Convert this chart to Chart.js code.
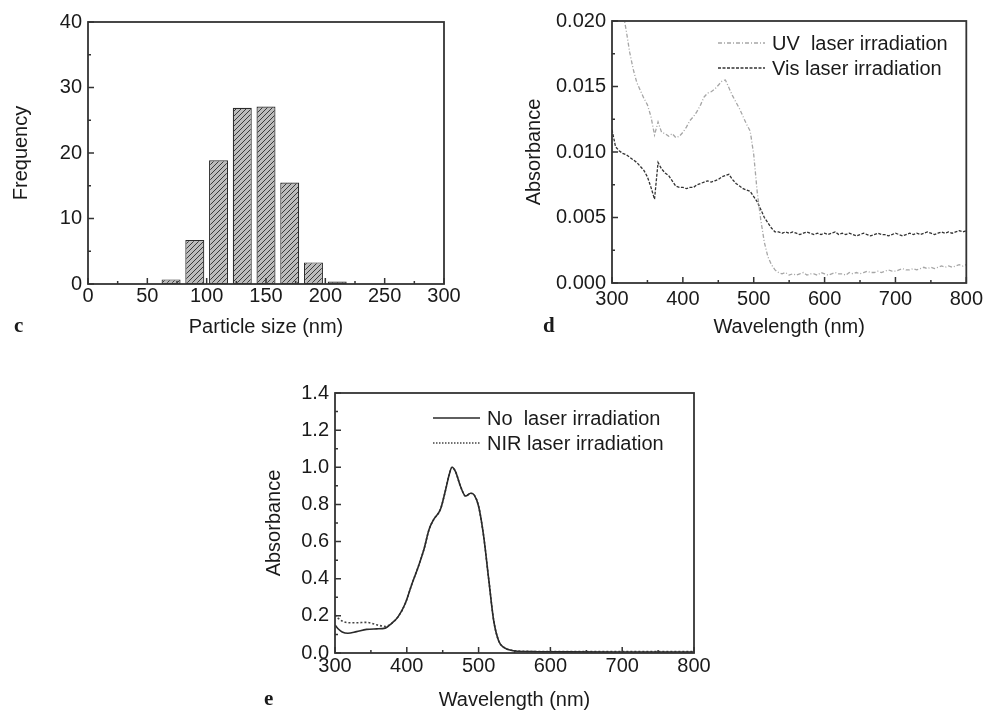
<!DOCTYPE html>
<html>
<head>
<meta charset="utf-8">
<title>Particle size and absorbance spectra</title>
<script src="https://cdn.jsdelivr.net/npm/chart.js@4.4.1/dist/chart.umd.min.js"></script>
<style>
body { margin: 0; background: #fff; }
#page { position: relative; width: 987px; height: 713px; overflow: hidden; font-family: "Liberation Sans", Arial, sans-serif; color: #1a1a1a; }
#page canvas { position: absolute; }
.panel-tag { position: absolute; font-family: "Liberation Serif", "Times New Roman", serif; font-weight: bold; font-size: 21px; line-height: 24px; }
.legend-row { position: absolute; height: 24px; font-size: 20px; line-height: 24px; white-space: pre; display: flex; align-items: center; }
.legend-row svg { margin-right: 7px; }
</style>
</head>
<body>
<div id="page">
  <canvas id="sizeChart" width="480" height="345" style="left:0px; top:0px;"></canvas>
  <canvas id="visChart" width="467" height="345" style="left:520px; top:0px;"></canvas>
  <canvas id="nirChart" width="480" height="343" style="left:240px; top:370px;"></canvas>

  <div class="panel-tag" style="left:14px; top:313px;">c</div>
  <div class="panel-tag" style="left:543px; top:313px;">d</div>
  <div class="panel-tag" style="left:264px; top:686px;">e</div>

  <div class="legend-row" style="left:718px; top:31px;"><svg width="47" height="4"><line x1="0" y1="2" x2="47" y2="2" stroke="#a6a6a6" stroke-width="1.4" stroke-dasharray="4 2 1 2"/></svg>UV  laser irradiation</div>
  <div class="legend-row" style="left:718px; top:56px;"><svg width="47" height="4"><line x1="0" y1="2" x2="47" y2="2" stroke="#333" stroke-width="1.4" stroke-dasharray="3 1.5"/></svg>Vis laser irradiation</div>

  <div class="legend-row" style="left:433px; top:406px;"><svg width="47" height="4"><line x1="0" y1="2" x2="47" y2="2" stroke="#2a2a2a" stroke-width="1.5"/></svg>No  laser irradiation</div>
  <div class="legend-row" style="left:433px; top:431px;"><svg width="47" height="4"><line x1="0" y1="2" x2="47" y2="2" stroke="#444" stroke-width="1.5" stroke-dasharray="1.5 1.5"/></svg>NIR laser irradiation</div>
</div>

<script>
// panel c - particle size histogram (bin centres, nm)
var sizeBins = [70, 90, 110, 130, 150, 170, 190, 210];
var sizeFreq = [0.7, 6.7, 18.9, 26.9, 27.1, 15.5, 3.3, 0.4];

// panel d - UV / Vis irradiated spectra
var dWave = [
  300, 305, 310, 315, 320, 325, 330, 335, 340, 345,
  350, 355, 360, 365, 370, 375, 380, 385, 390, 395,
  400, 405, 410, 415, 420, 425, 430, 435, 440, 445,
  450, 455, 460, 465, 470, 475, 480, 485, 490, 495,
  500, 505, 510, 515, 520, 525, 530, 535, 540, 545,
  550, 555, 560, 565, 570, 575, 580, 585, 590, 595,
  600, 605, 610, 615, 620, 625, 630, 635, 640, 645,
  650, 655, 660, 665, 670, 675, 680, 685, 690, 695,
  700, 705, 710, 715, 720, 725, 730, 735, 740, 745,
  750, 755, 760, 765, 770, 775, 780, 785, 790, 795,
  800
];
var dUV = [
  0.0265, 0.0246, 0.0226, 0.0208, 0.0193, 0.0176, 0.0163, 0.0153, 0.0147, 0.0141,
  0.0136, 0.0127, 0.0113, 0.0123, 0.0115, 0.0114, 0.0112, 0.0114, 0.0111, 0.0112,
  0.0115, 0.0119, 0.0124, 0.0127, 0.0131, 0.0136, 0.0142, 0.0145, 0.0146, 0.0148,
  0.0151, 0.0154, 0.0155, 0.0149, 0.0143, 0.0138, 0.0133, 0.0127, 0.0121, 0.0116,
  0.0098, 0.0069, 0.0048, 0.0031, 0.0020, 0.0014, 0.0010, 0.0008, 0.0007, 0.0008,
  0.0006, 0.0007, 0.0006, 0.0007, 0.0008, 0.0006, 0.0007, 0.0007, 0.0006, 0.0008,
  0.0007, 0.0006, 0.0007, 0.0008, 0.0007, 0.0007, 0.0006, 0.0008, 0.0007, 0.0008,
  0.0007, 0.0008, 0.0009, 0.0008, 0.0008, 0.0009, 0.0008, 0.0009, 0.0010, 0.0009,
  0.0009, 0.0010, 0.0011, 0.0010, 0.0010, 0.0011, 0.0010, 0.0011, 0.0012, 0.0011,
  0.0012, 0.0011, 0.0012, 0.0013, 0.0012, 0.0013, 0.0012, 0.0013, 0.0014, 0.0013,
  0.0014
];
var dVis = [
  0.0117, 0.0104, 0.0101, 0.0099, 0.0098, 0.0096, 0.0094, 0.0092, 0.0089, 0.0086,
  0.0081, 0.0073, 0.0064, 0.0092, 0.0087, 0.0084, 0.0082, 0.0078, 0.0074, 0.0073,
  0.0073, 0.0072, 0.0073, 0.0073, 0.0075, 0.0076, 0.0077, 0.0078, 0.0077, 0.0078,
  0.0079, 0.0081, 0.0082, 0.0083, 0.0079, 0.0076, 0.0074, 0.0072, 0.0071, 0.0070,
  0.0066, 0.0062, 0.0056, 0.0050, 0.0046, 0.0042, 0.0039, 0.0039, 0.0038, 0.0039,
  0.0038, 0.0039, 0.0038, 0.0037, 0.0038, 0.0039, 0.0038, 0.0037, 0.0038, 0.0037,
  0.0038, 0.0037, 0.0038, 0.0039, 0.0037, 0.0038, 0.0037, 0.0038, 0.0037, 0.0036,
  0.0037, 0.0038, 0.0037, 0.0036, 0.0037, 0.0038, 0.0037, 0.0037, 0.0036, 0.0037,
  0.0038, 0.0037, 0.0036, 0.0037, 0.0038, 0.0037, 0.0038, 0.0037, 0.0038, 0.0039,
  0.0038, 0.0037, 0.0038, 0.0039, 0.0038, 0.0039, 0.0038, 0.0039, 0.0040, 0.0039,
  0.0040
];

// panel e - no laser / NIR laser spectra
var eWave = [300, 305, 310, 318, 330, 344, 358, 370, 379, 388, 398, 407, 416, 424, 431, 437, 447, 454, 459, 463,
             468, 475, 482, 489, 494, 500, 507, 514, 521, 528, 535, 549, 565, 582, 620, 700, 800];
var eNoLaser = [0.151, 0.128, 0.113, 0.106, 0.115, 0.127, 0.130, 0.134, 0.160, 0.196, 0.268, 0.370, 0.465, 0.560, 0.665, 0.716, 0.775, 0.878, 0.960, 1.000,
                0.975, 0.895, 0.845, 0.860, 0.850, 0.790, 0.630, 0.400, 0.175, 0.065, 0.030, 0.012, 0.008, 0.007, 0.006, 0.005, 0.005];
var eNirLaser = [0.205, 0.185, 0.172, 0.163, 0.163, 0.165, 0.152, 0.143, 0.160, 0.196, 0.268, 0.370, 0.465, 0.560, 0.665, 0.716, 0.775, 0.878, 0.960, 1.000,
                 0.975, 0.895, 0.845, 0.860, 0.850, 0.790, 0.630, 0.400, 0.175, 0.065, 0.031, 0.013, 0.009, 0.008, 0.008, 0.008, 0.008];

Chart.defaults.font.family = '"Liberation Sans", Arial, sans-serif';
Chart.defaults.font.size = 20;
Chart.defaults.color = '#1a1a1a';

function toPoints(xs, ys) {
  return xs.map(function (x, i) { return { x: x, y: ys[i] }; });
}

// inward tick marks on bottom/left, closed frame round the plot
var frameTicks = {
  id: 'frameTicks',
  afterDatasetsDraw: function (chart) {
    var ctx = chart.ctx, a = chart.chartArea;
    var xs = chart.scales.x, ys = chart.scales.y;
    var xt = xs.ticks.map(function (t) { return t.value; });
    var yt = ys.ticks.map(function (t) { return t.value; });
    ctx.save();
    ctx.strokeStyle = '#333';
    ctx.lineWidth = 1.5;
    ctx.beginPath();
    for (var i = 0; i < xt.length; i++) {
      var px = xs.getPixelForValue(xt[i]);
      ctx.moveTo(px, a.bottom); ctx.lineTo(px, a.bottom - 6);
      if (i < xt.length - 1) {
        var mx = xs.getPixelForValue((xt[i] + xt[i + 1]) / 2);
        ctx.moveTo(mx, a.bottom); ctx.lineTo(mx, a.bottom - 3);
      }
    }
    for (var j = 0; j < yt.length; j++) {
      var py = ys.getPixelForValue(yt[j]);
      ctx.moveTo(a.left, py); ctx.lineTo(a.left + 6, py);
      if (j < yt.length - 1) {
        var my = ys.getPixelForValue((yt[j] + yt[j + 1]) / 2);
        ctx.moveTo(a.left, my); ctx.lineTo(a.left + 3, my);
      }
    }
    ctx.stroke();
    ctx.lineWidth = 1.8;
    ctx.strokeRect(a.left, a.top, a.right - a.left, a.bottom - a.top);
    ctx.restore();
  }
};

function axis(min, max, step, title, tickPad, titlePad, fitSize, isX, fmt) {
  return {
    type: 'linear',
    min: min,
    max: max,
    offset: false,
    grid: { display: false, drawTicks: false },
    border: { display: false },
    ticks: { stepSize: step, padding: tickPad, callback: fmt || function (v) { return v; } },
    title: { display: true, text: title, padding: titlePad },
    afterFit: function (s) { if (isX) { s.height = fitSize; } else { s.width = fitSize; } }
  };
}

//bar chart (c)
var ctxSize = document.getElementById('sizeChart').getContext('2d');
var hatchTile = document.createElement('canvas');
hatchTile.width = 5; hatchTile.height = 5;
var ht = hatchTile.getContext('2d');
ht.fillStyle = '#bcbcbc';
ht.fillRect(0, 0, 5, 5);
ht.strokeStyle = '#3a3a3a';
ht.lineWidth = 1;
ht.beginPath();
ht.moveTo(0, 5); ht.lineTo(5, 0);
ht.moveTo(-1, 1); ht.lineTo(1, -1);
ht.moveTo(4, 6); ht.lineTo(6, 4);
ht.stroke();
var hatch = ctxSize.createPattern(hatchTile, 'repeat');

var sizeChart = new Chart(ctxSize, {
  type: 'bar',
  data: {
    datasets: [{
      data: toPoints(sizeBins, sizeFreq),
      backgroundColor: hatch,
      borderColor: '#2b2b2b',
      borderWidth: 1.2,
      borderSkipped: false,
      barPercentage: 0.8,
      categoryPercentage: 1
    }]
  },
  options: {
    responsive: false,
    animation: false,
    devicePixelRatio: 1,
    layout: { padding: { left: 0, top: 22, right: 36, bottom: 6 } },
    plugins: { legend: { display: false }, tooltip: { enabled: false } },
    scales: {
      x: axis(0, 300, 50, 'Particle size (nm)', 0, { top: 0, bottom: 0 }, 55, true),
      y: axis(0, 40, 10, 'Frequency', 6, { top: 9, bottom: 0 }, 88, false)
    }
  },
  plugins: [frameTicks]
});

//line chart (d)
var ctxVis = document.getElementById('visChart').getContext('2d');
var visChart = new Chart(ctxVis, {
  type: 'line',
  data: {
    datasets: [{
      label: 'UV  laser irradiation',
      data: toPoints(dWave, dUV),
      borderColor: '#a6a6a6',
      borderWidth: 1.3,
      borderDash: [4, 2, 1, 2],
      pointRadius: 0,
      fill: false
    },
    {
      label: 'Vis laser irradiation',
      data: toPoints(dWave, dVis),
      borderColor: '#333',
      borderWidth: 1.3,
      borderDash: [3, 1.5],
      pointRadius: 0,
      fill: false
    }]
  },
  options: {
    responsive: false,
    animation: false,
    devicePixelRatio: 1,
    layout: { padding: { left: 0, top: 21, right: 19, bottom: 6 } },
    plugins: { legend: { display: false }, tooltip: { enabled: false } },
    scales: {
      x: axis(300, 800, 100, 'Wavelength (nm)', 4, { top: 0, bottom: 0 }, 56, true),
      y: axis(0, 0.02, 0.005, 'Absorbance', 6, { top: 2, bottom: 0 }, 92, false,
        function (v) { return v.toFixed(3); })
    }
  },
  plugins: [frameTicks]
});

//line chart (e)
var ctxNir = document.getElementById('nirChart').getContext('2d');
var nirChart = new Chart(ctxNir, {
  type: 'line',
  data: {
    datasets: [{
      label: 'No  laser irradiation',
      data: toPoints(eWave, eNoLaser),
      borderColor: '#2a2a2a',
      borderWidth: 1.6,
      cubicInterpolationMode: 'monotone',
      pointRadius: 0,
      fill: false
    },
    {
      label: 'NIR laser irradiation',
      data: toPoints(eWave, eNirLaser),
      borderColor: '#444',
      borderWidth: 1.6,
      borderDash: [2, 2],
      cubicInterpolationMode: 'monotone',
      pointRadius: 0,
      fill: false
    }]
  },
  options: {
    responsive: false,
    animation: false,
    devicePixelRatio: 1,
    layout: { padding: { left: 0, top: 23, right: 26, bottom: 1 } },
    plugins: { legend: { display: false }, tooltip: { enabled: false } },
    scales: {
      x: axis(300, 800, 100, 'Wavelength (nm)', 1, { top: 0, bottom: 0 }, 59, true),
      y: axis(0, 1.4, 0.2, 'Absorbance', 6, { top: 22, bottom: 0 }, 95, false,
        function (v) { return v.toFixed(1); })
    }
  },
  plugins: [frameTicks]
});
</script>
</body>
</html>
